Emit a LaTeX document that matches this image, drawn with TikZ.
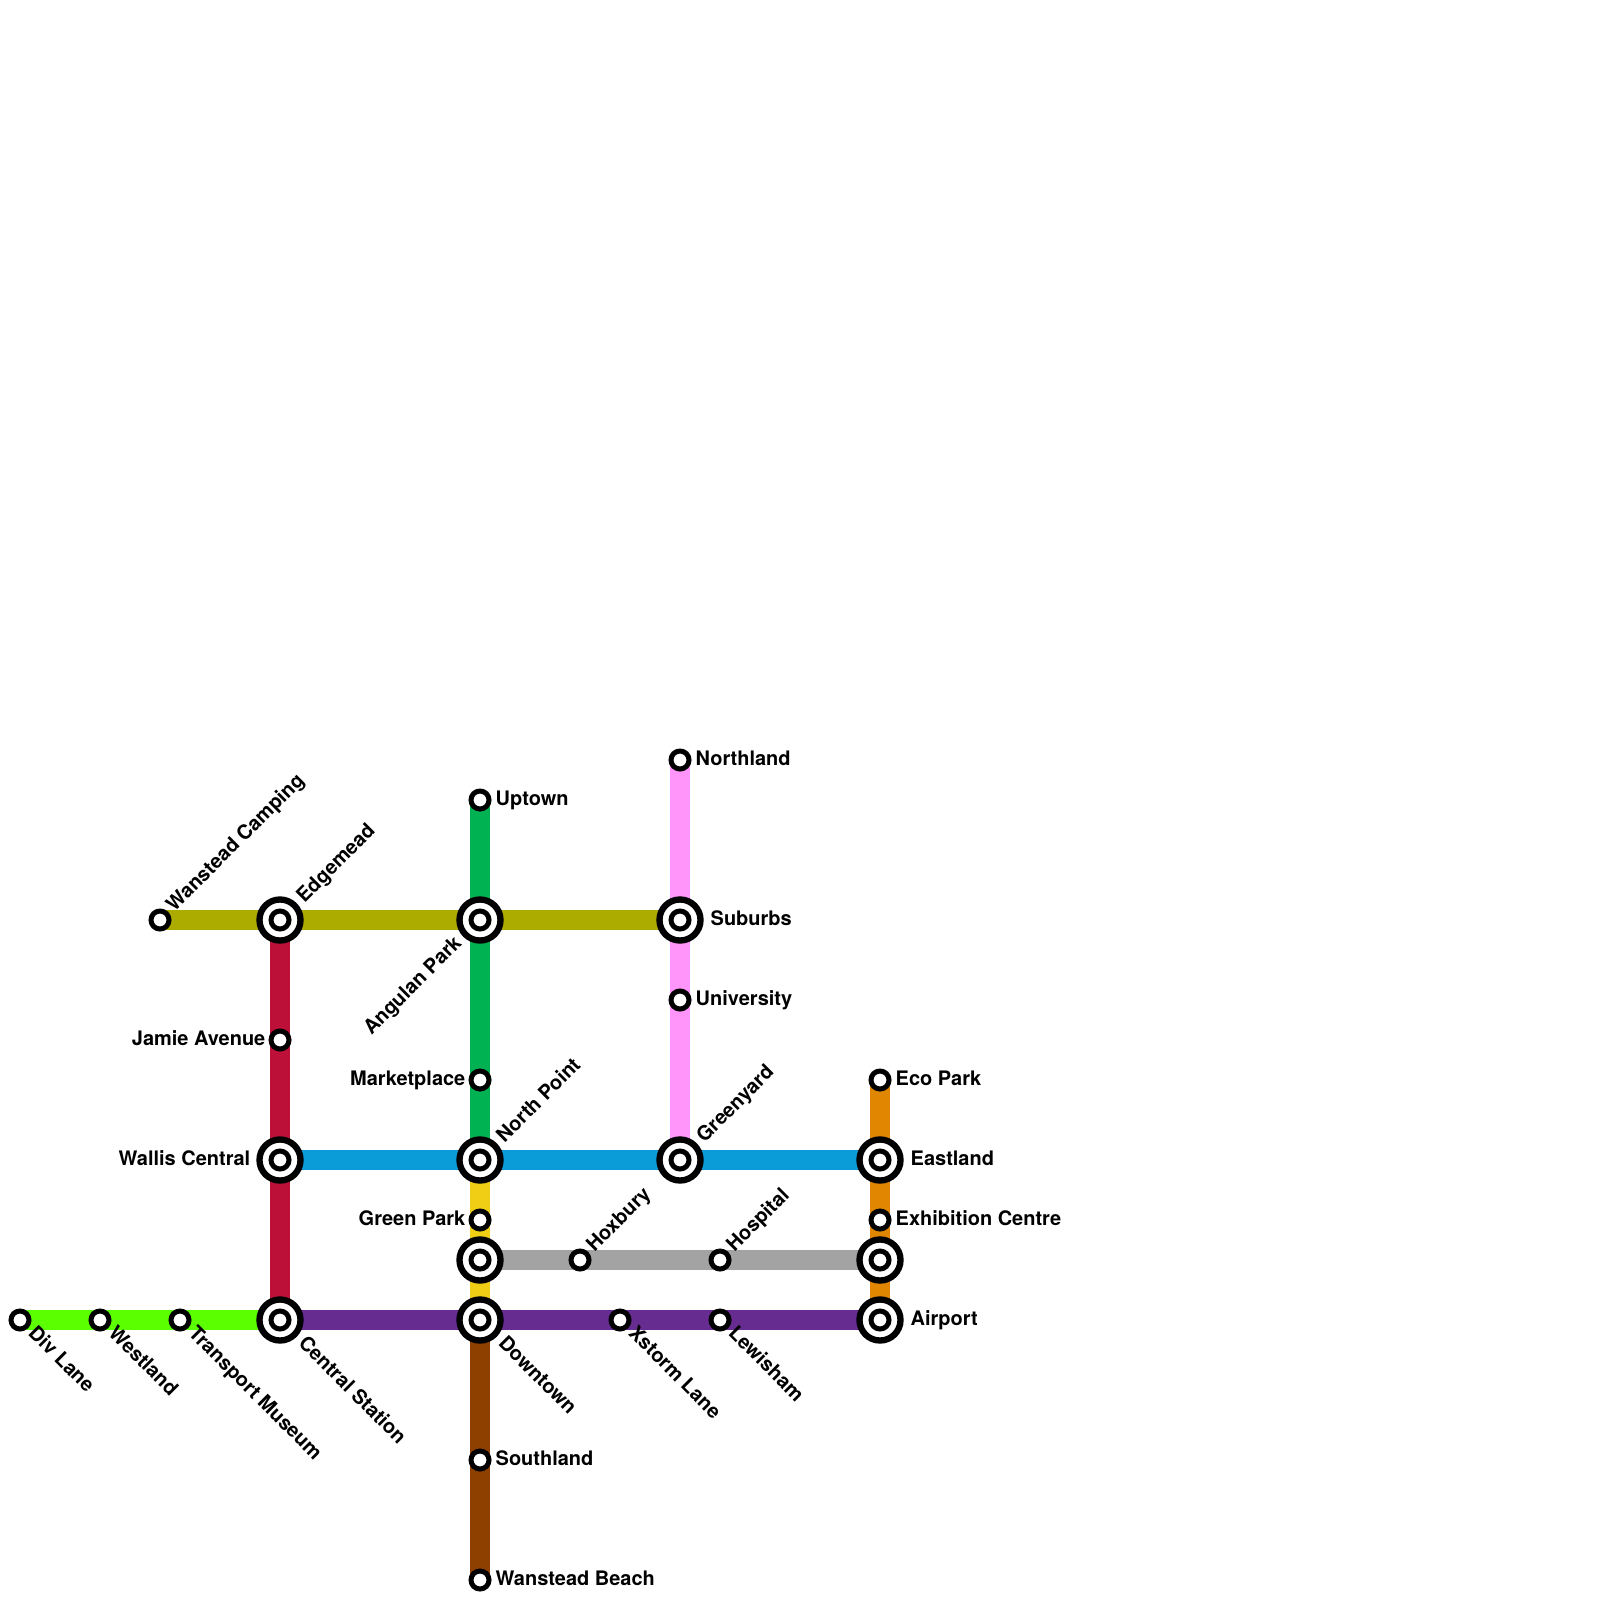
\documentclass[tikz,border=0pt]{standalone}
\usepackage{fontspec}
\setmainfont{TeX Gyre Heros}
\usepackage{xcolor}
\usepackage{tikz}
\usetikzlibrary{backgrounds}
\definecolor{lime}{HTML}{5BFF00}
\definecolor{crimson}{HTML}{BD1038}
\definecolor{olive}{HTML}{ACAC00}
\definecolor{jade}{HTML}{00B251}
\definecolor{pinky}{HTML}{FF94FA}
\definecolor{sky}{HTML}{0A9BD9}
\definecolor{sun}{HTML}{F0CE15}
\definecolor{steel}{HTML}{A3A3A3}
\definecolor{plum}{HTML}{662C90}
\definecolor{rust}{HTML}{8E4000}
\definecolor{amber}{HTML}{E08600}
\tikzset{
  stop/.style={circle, draw=black, fill=white, line width=1.42pt, inner sep=0pt, outer sep=0pt, minimum size=0.18cm},
  hub/.style={circle, draw=black, fill=white, line width=1.8pt, inner sep=0pt, outer sep=0pt, minimum size=0.41cm},
  track/.style={line width=0.2cm},
  lbl/.style={font=\bfseries\fontsize{5.68pt}{7pt}\selectfont, inner sep=0pt},
  lblE/.style={lbl, anchor=base west, shift={(15,5)}},
  lblW/.style={lbl, anchor=base east, shift={(-14,5)}},
  lblNE/.style={lbl, anchor=base west, shift={(14,-7)}, rotate=45},
  lblSE/.style={lbl, anchor=base west, shift={(7,14)}, rotate=-45},
  hubE/.style={lbl, anchor=base west, shift={(30,5)}},
  hubW/.style={lbl, anchor=base east, shift={(-29,5)}},
  hubNE/.style={lbl, anchor=base west, shift={(24,-16)}, rotate=45},
  hubSE/.style={lbl, anchor=base west, shift={(17,24)}, rotate=-45},
  hubSW/.style={lbl, anchor=base east, shift={(-17,24)}, rotate=45},
}
\begin{document}
\begin{tikzpicture}[x=0.01cm, y=-0.01cm]
  \useasboundingbox (0,0) rectangle (1600,1600);
  % interchanges
  \foreach \id/\x/\y/\side/\txt in {
      edge/280/920/hubNE/Edgemead,
      angulan/480/920/hubSW/Angulan Park,
      suburbs/680/920/hubE/Suburbs,
      wallis/280/1160/hubW/Wallis Central,
      north/480/1160/hubNE/North Point,
      green/680/1160/hubNE/Greenyard,
      east/880/1160/hubE/Eastland,
      gray/480/1260/hubE/,
      expo/880/1260/hubE/,
      central/280/1320/hubSE/Central Station,
      down/480/1320/hubSE/Downtown,
      air/880/1320/hubE/Airport} {
    \node[hub] (\id) at (\x,\y) {};
    \node[stop] (\id-in) at (\x,\y) {};
    \node[\side] (\id-lbl) at (\x,\y) {\txt};
  }
  % plain stops
  \foreach \id/\x/\y/\side/\txt in {
      camping/160/920/lblNE/Wanstead Camping,
      jamie/280/1040/lblW/Jamie Avenue,
      uptown/480/800/lblE/Uptown,
      market/480/1080/lblW/Marketplace,
      gpark/480/1220/lblW/Green Park,
      south/480/1460/lblE/Southland,
      beach/480/1580/lblE/Wanstead Beach,
      northl/680/760/lblE/Northland,
      univ/680/1000/lblE/University,
      eco/880/1080/lblE/Eco Park,
      exhib/880/1220/lblE/Exhibition Centre,
      hox/580/1260/lblNE/Hoxbury,
      hosp/720/1260/lblNE/Hospital,
      xstorm/620/1320/lblSE/Xstorm Lane,
      lewis/720/1320/lblSE/Lewisham,
      div/20/1320/lblSE/Div Lane,
      west/100/1320/lblSE/Westland,
      museum/180/1320/lblSE/Transport Museum} {
    \node[stop] (\id) at (\x,\y) {};
    \node[\side] (\id-lbl) at (\x,\y) {\txt};
  }
  \begin{scope}[on background layer]
    \draw[track, crimson] (edge.center) -- (central.center);
    \draw[track, jade] (uptown.center) -- (north.center);
    \draw[track, pinky] (northl.center) -- (green.center);
    \draw[track, sun] (north.center) -- (down.center);
    \draw[track, rust] (down.center) -- (beach.center);
    \draw[track, amber] (eco.center) -- (air.center);
    \draw[track, olive] (camping.center) -- (suburbs.center);
    \draw[track, sky] (wallis.center) -- (east.center);
    \draw[track, steel] (gray.center) -- (expo.center);
    \draw[track, plum] (central.center) -- (air.center);
    \draw[track, lime] (div.center) -- (central.center);
  \end{scope}
\end{tikzpicture}
\end{document}
